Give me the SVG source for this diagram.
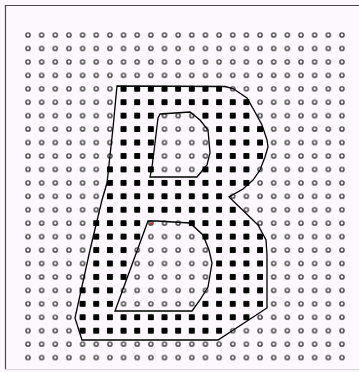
<svg xmlns="http://www.w3.org/2000/svg" width="359" height="372" viewBox="0 0 359 372">
<defs>
<style>
.frame-dark{stroke:#4a4a4a;stroke-width:1.2;fill:none}
.frame-light{stroke:#d9d2d9;stroke-width:1.2;fill:none}
.outline{fill:none;stroke:#000;stroke-width:1.3;stroke-linejoin:miter}
.sqrow{fill:url(#sq)}
</style>
<pattern id="ring" patternUnits="userSpaceOnUse" x="21.175" y="28.28" width="13.65" height="13.44">
<circle cx="6.825" cy="6.72" r="2.05" fill="#fbf6fb" stroke="#404040" stroke-width="1.4"/>
</pattern>
<pattern id="sq" patternUnits="userSpaceOnUse" x="21.175" y="28.28" width="13.65" height="13.44">
<rect x="3.925" y="3.82" width="5.8" height="5.8" fill="#000"/>
</pattern>
</defs>
<rect x="0" y="0" width="359" height="372" fill="#fdf8fd"/>
<g id="frame">
<line class="frame-dark" x1="5" y1="5.5" x2="359" y2="5.5"/>
<line class="frame-dark" x1="5.5" y1="5" x2="5.5" y2="370"/>
<line class="frame-light" x1="5" y1="369.5" x2="359" y2="369.5"/>
</g>
<g id="grid">
<rect x="21.175" y="28.28" width="327.6" height="336" fill="url(#ring)"/>
</g>
<g id="filled">
<rect class="sqrow" x="116.725" y="82.04" width="109.2" height="13.44"/>
<rect class="sqrow" x="116.725" y="95.48" width="136.5" height="13.44"/>
<rect class="sqrow" x="116.725" y="108.92" width="40.95" height="13.44"/>
<rect class="sqrow" x="198.625" y="108.92" width="54.6" height="13.44"/>
<rect class="sqrow" x="116.725" y="122.36" width="40.95" height="40.32"/>
<rect class="sqrow" x="212.275" y="122.36" width="54.6" height="40.32"/>
<rect class="sqrow" x="103.075" y="162.68" width="54.6" height="13.44"/>
<rect class="sqrow" x="198.625" y="162.68" width="54.6" height="13.44"/>
<rect class="sqrow" x="103.075" y="176.12" width="150.15" height="13.44"/>
<rect class="sqrow" x="103.075" y="189.56" width="122.85" height="13.44"/>
<rect class="sqrow" x="103.075" y="203" width="136.5" height="13.44"/>
<rect class="sqrow" x="89.425" y="216.44" width="54.6" height="26.88"/>
<rect class="sqrow" x="184.975" y="216.44" width="68.25" height="13.44"/>
<rect class="sqrow" x="198.625" y="229.88" width="68.25" height="13.44"/>
<rect class="sqrow" x="89.425" y="243.32" width="40.95" height="40.32"/>
<rect class="sqrow" x="212.275" y="243.32" width="54.6" height="53.76"/>
<rect class="sqrow" x="75.775" y="283.64" width="40.95" height="26.88"/>
<rect class="sqrow" x="198.625" y="297.08" width="68.25" height="13.44"/>
<rect class="sqrow" x="75.775" y="310.52" width="177.45" height="13.44"/>
<rect class="sqrow" x="75.775" y="323.96" width="150.15" height="13.44"/>
</g>
<g id="shape-B">
<path class="outline" d="M117,86 L225,86.5 L233,88.5 L247,98 L255,112 L262,125 L267,140 L268,147 L265,157 L260,170 L253,180 L243,189 L229,197 L258,225 L266,240 L267,255 L267,308 L218,340 L82,340 L75,318 L90,250 L102,200 L107,183 L113,128 Z"/>
<path class="outline" d="M160,114 L190,112 L200,120 L208,130 L210,153 L207,165 L197,177 L150,177 L152,167 L155,143 L158,118 Z"/>
<path class="outline" d="M148,221 L157,221 L190,223 L203,235 L209,250 L212,263 L208,287 L200,300 L192,311 L115,311 Z"/>
</g>
<circle id="marker" cx="151" cy="223.6" r="1.3" fill="#e02020"/>
</svg>
